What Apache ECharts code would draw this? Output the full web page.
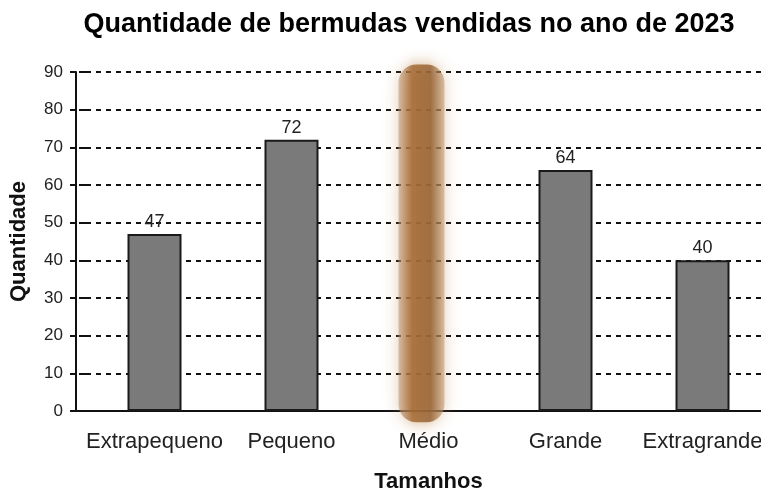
<!DOCTYPE html>
<html>
<head>
    <meta http-equiv="Content-Type" content="text/html; charset=utf-8">
    <script type="text/javascript" src="https://cdn.jsdelivr.net/npm/echarts@6/dist/echarts.min.js"></script>
    <style>
        html, body { margin: 0; padding: 0; background: #fff; }
        #dom { width: 761px; height: 490px; }
    </style>
</head>
<body>
<div id="dom"></div>
<script type="text/javascript">
    // dados
    var tamanhos = ['Extrapequeno', 'Pequeno', 'Médio', 'Grande', 'Extragrande'];
    var quantidades = [47, 72, null, 64, 40]; // Médio está encoberto pela mancha
    var yTicks = [0, 10, 20, 30, 40, 50, 60, 70, 80, 90];
    // mancha que encobre a barra "Médio": [categoria, topo, base]
    var mancha = [[2, 92, -3]];

    var myChart = echarts.init(document.getElementById('dom'));
    var fonte = '"Liberation Sans", Arial, sans-serif';
    var eixoX = 76; // onde fica a linha do eixo Y

    var option = {
        animation: false,
        backgroundColor: '#fff',
        title: {
            text: 'Quantidade de bermudas vendidas no ano de 2023',
            left: 404,
            textAlign: 'center',
            top: 6,
            textStyle: { fontFamily: fonte, fontSize: 27, fontWeight: 'bold', color: '#000' }
        },
        grid: { left: 86, right: -10, top: 72, bottom: 79, containLabel: false, outerBoundsMode: 'none' },
        xAxis: {
            type: 'category',
            data: tamanhos,
            name: 'Tamanhos',
            nameLocation: 'middle',
            nameGap: 60,
            nameTextStyle: { fontFamily: fonte, fontSize: 22, fontWeight: 'bold', color: '#111' },
            axisLine: { lineStyle: { color: '#111', width: 2 } },
            axisTick: { show: false },
            axisLabel: { interval: 0, fontFamily: fonte, fontSize: 22, color: '#222', margin: 20 }
        },
        yAxis: [
            {
                type: 'value',
                min: yTicks[0],
                max: yTicks[yTicks.length - 1],
                interval: 10,
                offset: 10,
                name: 'Quantidade',
                nameLocation: 'middle',
                nameGap: 46,
                nameTextStyle: { fontFamily: fonte, fontSize: 22, fontWeight: 'bold', color: '#111' },
                axisLine: { show: true, lineStyle: { color: '#111', width: 2 } },
                axisTick: { show: true, length: 6, lineStyle: { color: '#111', width: 2 } },
                axisLabel: { fontFamily: fonte, fontSize: 17, color: '#222', margin: 13 },
                splitLine: { show: true, lineStyle: { color: '#111', width: 2, type: [5, 5] } }
            },
            {
                // só para ligar os tracinhos do eixo às linhas de grade
                type: 'value',
                position: 'left',
                min: yTicks[0],
                max: yTicks[yTicks.length - 1],
                interval: 10,
                axisLine: { show: false },
                axisTick: { show: true, length: 7, lineStyle: { color: '#111', width: 2 } },
                axisLabel: { show: false },
                splitLine: { show: false }
            }
        ],
        series: [
            {
                name: 'Quantidade',
                type: 'bar',
                data: quantidades,
                barWidth: 54,
                itemStyle: { color: '#7a7a7a', borderColor: '#1a1a1a', borderWidth: 2 },
                label: {
                    show: true,
                    position: 'top',
                    distance: 3,
                    fontFamily: fonte,
                    fontSize: 18,
                    color: '#222'
                },
                z: 2
            },
            {
                name: 'mancha',
                type: 'custom',
                data: mancha,
                z: 5,
                silent: true,
                renderItem: function (params, api) {
                    var topo = api.coord([api.value(0), api.value(1)]);
                    var base = api.coord([api.value(0), api.value(2)]);
                    var w = 46;
                    var cx = topo[0] - 7; // a mancha fica um pouco à esquerda do centro
                    return {
                        type: 'group',
                        children: [
                            {
                                type: 'rect',
                                shape: { x: cx - w / 2, y: topo[1], width: w, height: base[1] - topo[1], r: 18 },
                                style: {
                                    fill: new echarts.graphic.LinearGradient(0, 0, 1, 0, [
                                        { offset: 0, color: 'rgba(185,145,105,0.5)' },
                                        { offset: 0.3, color: 'rgba(165,105,50,0.85)' },
                                        { offset: 0.7, color: 'rgba(150,100,55,0.85)' },
                                        { offset: 1, color: 'rgba(185,145,105,0.5)' }
                                    ]),
                                    shadowBlur: 16,
                                    shadowColor: 'rgba(190,130,70,0.75)'
                                }
                            }
                        ]
                    };
                }
            }
        ]
    };
    myChart.setOption(option);

    // completa a linha do eixo X até o eixo Y
    var p0 = myChart.convertToPixel({ xAxisIndex: 0, yAxisIndex: 0 }, [0, 0]);
    var gridLeft = myChart.getModel().getComponent('grid').coordinateSystem.getRect().x;
    myChart.setOption({
        graphic: [{
            type: 'line',
            shape: { x1: eixoX, y1: p0[1], x2: gridLeft + 1, y2: p0[1] },
            style: { stroke: '#111', lineWidth: 2 }
        }]
    });
</script>
</body>
</html>
